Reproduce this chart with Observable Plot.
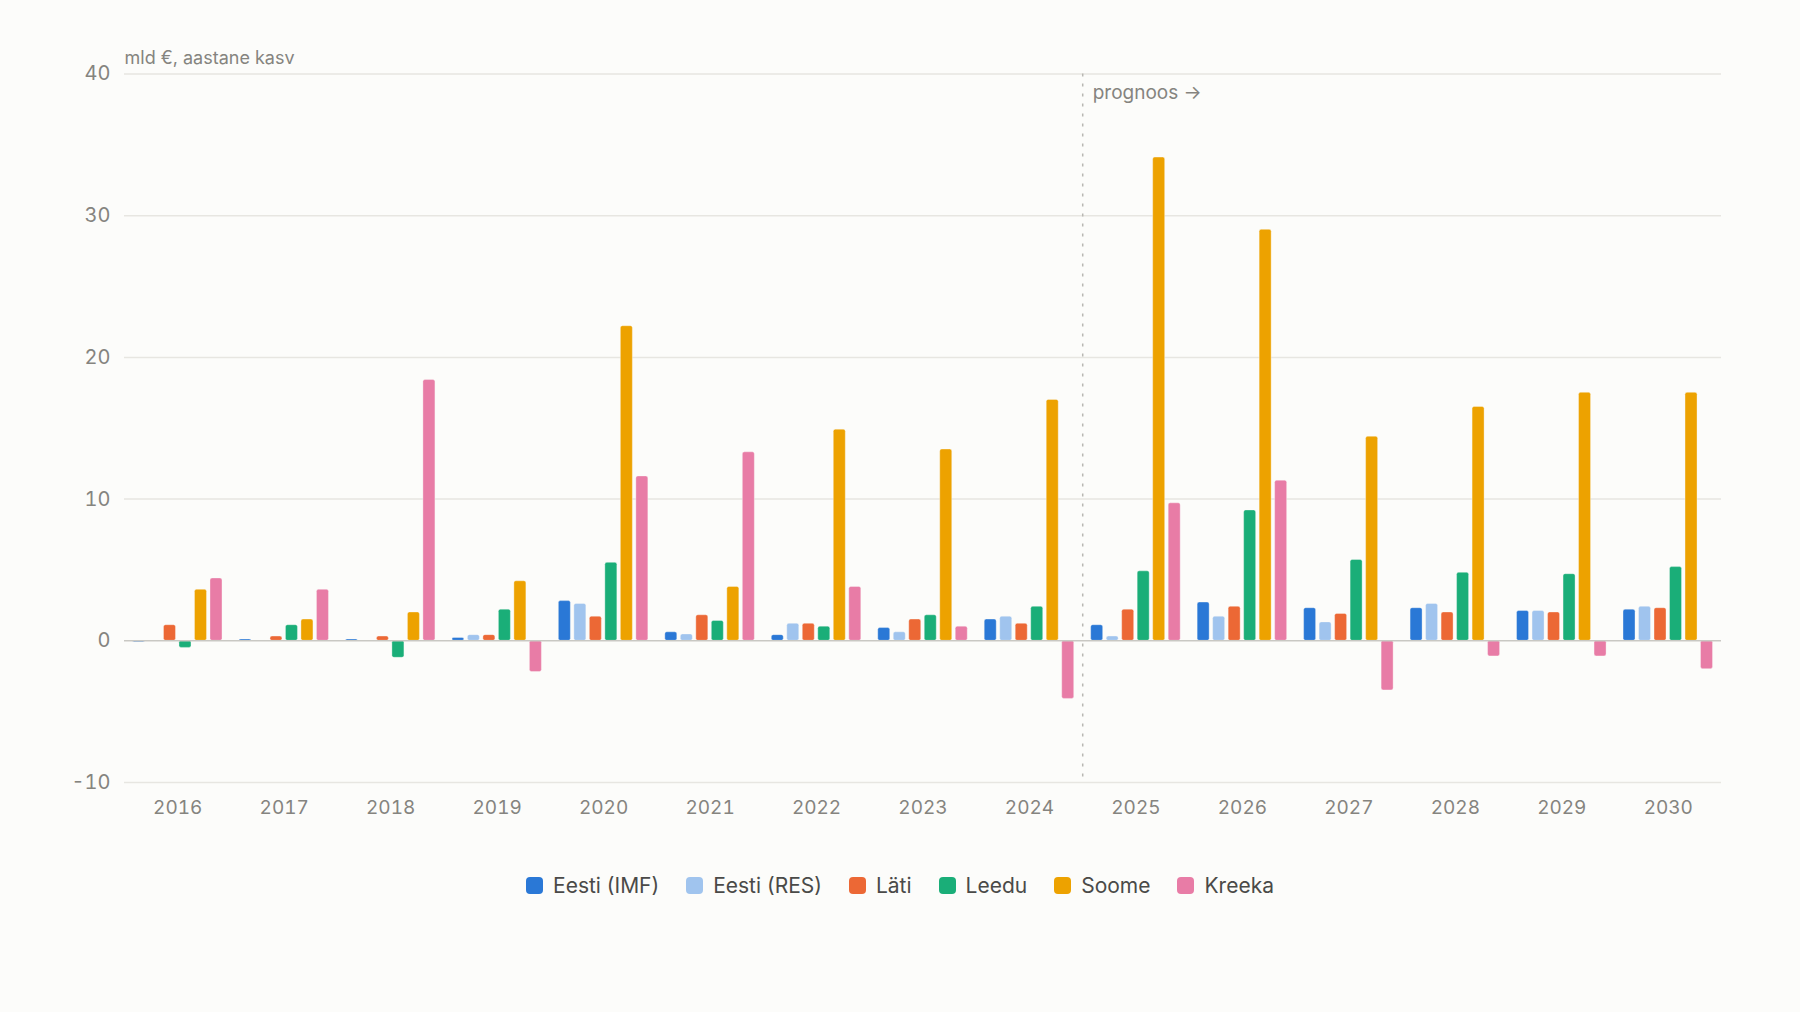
<!DOCTYPE html>
<html>
<head>
<meta charset="utf-8">
<script src="https://cdn.jsdelivr.net/npm/d3@7"></script>
<script src="https://cdn.jsdelivr.net/npm/@observablehq/plot@0.6"></script>
<style>
  html, body { margin: 0; padding: 0; background: #fcfcfa; }
  body { font-family: Inter, "Noto Sans", "DejaVu Sans", sans-serif; width: 1800px; height: 1012px; overflow: hidden; }
  #chart svg { display: block; background: transparent; }
  #legend {
    display: flex; justify-content: center; align-items: center; gap: 27px;
    margin-top: 33px; font-size: 21px; color: #4a4a48;
  }
  #legend .item { display: flex; align-items: center; gap: 10px; }
  #legend .sw { width: 17px; height: 17px; border-radius: 4px; }
</style>
</head>
<body>
<div id="chart"></div>
<div id="legend"></div>
<script>
// Annual growth, billion €, 2016–2030 (2025 onwards is forecast)
const years = ["2016", "2017", "2018", "2019", "2020", "2021", "2022", "2023", "2024", "2025", "2026", "2027", "2028", "2029", "2030"];
const series = ["Eesti (IMF)", "Eesti (RES)", "Läti", "Leedu", "Soome", "Kreeka"];
const colors = ["#2a78d6", "#a0c4ee", "#ec6835", "#1aae78", "#eda200", "#e87ca6"];

const eestiIMF = [-0.1, 0.1, 0.1, 0.2, 2.8, 0.6, 0.4, 0.9, 1.5, 1.1, 2.7, 2.3, 2.3, 2.1, 2.2];
const eestiRES = [-0.05, -0.05, -0.05, 0.4, 2.6, 0.45, 1.2, 0.6, 1.7, 0.3, 1.7, 1.3, 2.6, 2.1, 2.4];
const lati     = [1.1, 0.3, 0.3, 0.4, 1.7, 1.8, 1.2, 1.5, 1.2, 2.2, 2.4, 1.9, 2.0, 2.0, 2.3];
const leedu    = [-0.5, 1.1, -1.2, 2.2, 5.5, 1.4, 1.0, 1.8, 2.4, 4.9, 9.2, 5.7, 4.8, 4.7, 5.2];
const soome    = [3.6, 1.5, 2.0, 4.2, 22.2, 3.8, 14.9, 13.5, 17.0, 34.1, 29.0, 14.4, 16.5, 17.5, 17.5];
const kreeka   = [4.4, 3.6, 18.4, -2.2, 11.6, 13.3, 3.8, 1.0, -4.1, 9.7, 11.3, -3.5, -1.1, -1.1, -2.0];

const yTicks = [-10, 0, 10, 20, 30, 40];
const yTitle = "mld €, aastane kasv";
const forecastLabel = "prognoos →";
const forecastFrom = "2025";

// Grouped layout on a continuous year-index axis: each year holds six slots
const slot = 0.1456;   // slot width, in year units
const barW = 0.1127;   // bar width, in year units
const valuesBySeries = [eestiIMF, eestiRES, lati, leedu, soome, kreeka];
const rows = [];
valuesBySeries.forEach((vals, j) => {
  vals.forEach((v, i) => {
    const c = i + (j - (series.length - 1) / 2) * slot;
    rows.push({ year: years[i], series: series[j], value: v, x1: c - barW / 2, x2: c + barW / 2 });
  });
});
const boundary = years.indexOf(forecastFrom) - 0.5;

const chart = Plot.plot({
  width: 1800,
  height: 840,
  marginLeft: 124,
  marginRight: 79,
  marginTop: 73.5,
  marginBottom: 58,
  style: { fontFamily: "Inter, 'Noto Sans', sans-serif", background: "transparent", color: "#85847f" },
  x: { type: "linear", domain: [-0.5, years.length - 0.5], axis: null, label: null },
  y: { domain: [-10, 40], axis: null, label: null },
  color: { domain: series, range: colors },
  marks: [
    Plot.gridY(yTicks.filter(d => d !== 0), { stroke: "#e7e6e1", strokeOpacity: 1, strokeWidth: 1.5 }),
    Plot.axisY({ ticks: yTicks, tickFormat: d => String(d), label: null, tickSize: 0, tickPadding: 14, fontSize: 20, fill: "#85847f" }),
    Plot.axisX({ ticks: d3.range(years.length), tickFormat: i => years[i], label: null, tickSize: 0, tickPadding: 18, fontSize: 19, fill: "#85847f" }),
    Plot.ruleX([boundary], { stroke: "#b8b7b2", strokeWidth: 1.5, strokeDasharray: "3,7" }),
    Plot.rect(rows, { x1: "x1", x2: "x2", y1: 0, y2: "value", fill: "series", rx: 2, stroke: "#fcfcfa", strokeWidth: 0.6, strokeOpacity: 0.6 }),
    Plot.ruleY([0], { stroke: "#c9c8c3", strokeWidth: 1.5 }),
    Plot.text([yTitle], { frameAnchor: "top-left", textAnchor: "start", lineAnchor: "bottom", dy: -10, fontSize: 18, fill: "#85847f" }),
    Plot.text([forecastLabel], { x: boundary, y: 40, textAnchor: "start", lineAnchor: "bottom", dx: 10, dy: 24.5, fontSize: 19, fill: "#85847f" })
  ]
});
document.getElementById("chart").appendChild(chart);

// Legend row
const legend = document.getElementById("legend");
series.forEach((s, j) => {
  const item = document.createElement("div");
  item.className = "item";
  const sw = document.createElement("span");
  sw.className = "sw";
  sw.style.background = colors[j];
  const label = document.createElement("span");
  label.textContent = s;
  item.appendChild(sw);
  item.appendChild(label);
  legend.appendChild(item);
});
</script>
</body>
</html>
